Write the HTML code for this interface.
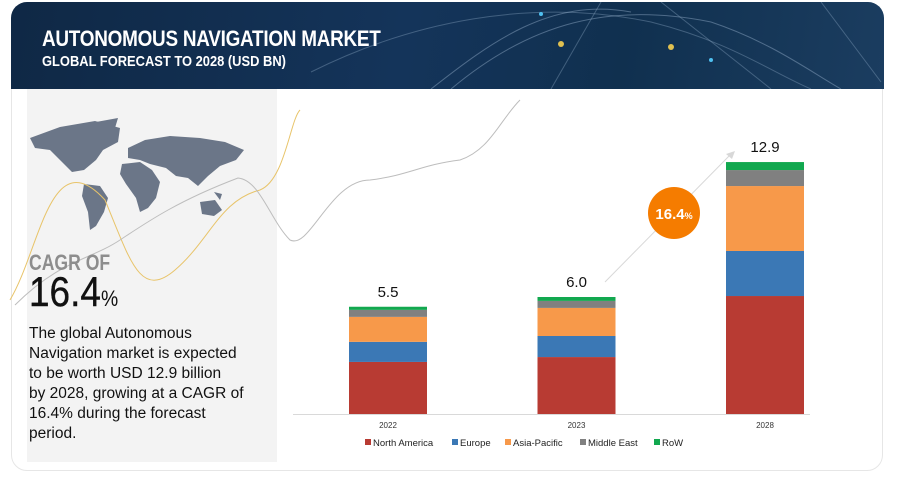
<!DOCTYPE html>
<html><head><meta charset="utf-8">
<style>
body{margin:0;width:900px;height:491px;background:#fff;overflow:hidden;font-family:"Liberation Sans",sans-serif;position:relative}
.card{position:absolute;left:11px;top:2px;width:872px;height:469px;border:1px solid #e6e6e6;border-radius:16px;box-sizing:border-box}
.header{position:absolute;left:11px;top:2px;width:873px;height:87px;border-radius:16px 16px 0 0;background:linear-gradient(100deg,#0f2845 0%,#14345a 45%,#10304f 70%,#1b3d60 100%);overflow:hidden}
.t1{position:absolute;left:31px;top:24px;color:#fff;font-size:22px;font-weight:bold;transform:scaleX(0.86);transform-origin:left;letter-spacing:-0.3px;white-space:nowrap}
.t2{position:absolute;left:31px;top:51px;color:#fff;font-size:15px;font-weight:bold;transform:scaleX(0.86);transform-origin:left;white-space:nowrap}
.panel{position:absolute;left:27px;top:89px;width:250px;height:373px;background:#f3f3f3}
.cagr{position:absolute;left:29px;top:250px;font-size:22px;font-weight:bold;color:#8d8d8d;transform:scaleX(0.8);transform-origin:left}
.big{position:absolute;left:29px;top:268px;font-size:42px;color:#111;transform:scaleX(0.88);transform-origin:left;-webkit-text-stroke:0.4px #111}
.big span{font-size:22px;-webkit-text-stroke:0}
.para{position:absolute;left:29px;top:324px;width:260px;font-size:15.5px;line-height:20px;color:#111;white-space:nowrap}
</style></head><body>
<div class="card"></div>
<div class="header">
<svg width="873" height="87" style="position:absolute;left:0;top:0">
<path d="M420 87 C480 40 540 -5 620 10" stroke="#8aa4c0" stroke-opacity=".5" fill="none"/>
<path d="M440 87 C520 20 600 0 700 20 C760 40 800 70 830 87" stroke="#8aa4c0" stroke-opacity=".5" fill="none"/>
<path d="M300 70 C400 20 520 -5 640 20 C720 40 760 70 800 87" stroke="#8aa4c0" stroke-opacity=".4" fill="none"/>
<path d="M540 87 L590 0" stroke="#8aa4c0" stroke-opacity=".4" fill="none"/>
<path d="M650 0 L760 87" stroke="#8aa4c0" stroke-opacity=".4" fill="none"/>
<path d="M810 0 L870 80" stroke="#8aa4c0" stroke-opacity=".4" fill="none"/>
<circle cx="550" cy="42" r="3" fill="#e0c050"/><circle cx="660" cy="45" r="3" fill="#e0c050"/><circle cx="530" cy="12" r="2" fill="#4fc0f0"/><circle cx="700" cy="58" r="2" fill="#4fc0f0"/>
</svg>
<div class="t1">AUTONOMOUS NAVIGATION MARKET</div>
<div class="t2">GLOBAL FORECAST TO 2028 (USD BN)</div>
</div>
<div class="panel"></div>
<svg width="900" height="491" style="position:absolute;left:0;top:0">
<g fill="#6b7688">
<path d="M30 138 L60 127 L95 121 L120 128 L118 142 L103 150 L96 160 L84 170 L72 172 L62 162 L50 150 L35 148Z"/>
<path d="M96 122 L118 118 L112 138 L100 140Z"/>
<path d="M84 184 L100 186 L108 198 L104 212 L96 226 L90 230 L88 212 L82 196Z"/>
<path d="M128 148 L145 140 L170 136 L200 138 L225 142 L244 150 L236 160 L220 166 L208 176 L198 186 L188 178 L176 176 L166 168 L150 164 L140 160 L128 158Z"/>
<path d="M122 164 L140 162 L152 170 L160 182 L156 198 L148 208 L140 212 L136 198 L126 184 L120 174Z"/>
<path d="M200 202 L215 200 L222 210 L214 216 L202 214Z"/>
<path d="M214 192 L222 194 L220 200Z"/>
</g>
<path d="M10 300 C40 250 50 140 105 200 C130 260 140 300 175 270 C210 240 220 200 260 190 C285 180 290 120 300 110" stroke="#e8c46a" fill="none" stroke-width="1"/>
<path d="M15 305 C60 260 90 260 120 240 C150 220 180 200 238 178 C260 180 270 220 290 240 C310 250 330 180 370 180 C410 175 420 165 460 160 C490 150 500 120 520 100" stroke="#bdbdbd" fill="none" stroke-width="1"/>
</svg>
<div class="cagr">CAGR OF</div>
<div class="big">16.4<span>%</span></div>
<div class="para">The global Autonomous<br>Navigation market is expected<br>to be worth USD 12.9 billion<br>by 2028, growing at a CAGR of<br>16.4% during the forecast<br>period.</div>

<svg id="chart" width="900" height="491" style="position:absolute;left:0;top:0"></svg>
<script>
const years=["2022","2023","2028"];
const northAmerica=[2.67,2.92,6.05];
const europe=[1.03,1.08,2.31];
const asiaPacific=[1.28,1.44,3.33];
const middleEast=[0.36,0.36,0.82];
const row=[0.16,0.20,0.41];
const totals=["5.5","6.0","12.9"];
const seriesNames=["North America","Europe","Asia-Pacific","Middle East","RoW"];
const seriesColors=["#b83b33","#3b78b5","#f7994a","#808080","#12a84f"];
const series=[northAmerica,europe,asiaPacific,middleEast,row];
const NS="http://www.w3.org/2000/svg";
const svg=document.getElementById('chart');
const baseY=414,pxPer=19.5,x0=388,step=188.5,bw=78;
const xOf=i=>x0+i*step;
const yOf=v=>baseY-v*pxPer;
function mk(t,a){const e=document.createElementNS(NS,t);for(const k in a)e.setAttribute(k,a[k]);svg.appendChild(e);return e;}
const ax=mk('line',{x1:293,x2:810,y1:baseY+0.5,y2:baseY+0.5,stroke:'#d9d9d9'});


years.forEach((yr,i)=>{
  let cum=0;
  series.forEach((s,k)=>{
    const r=mk('rect',{x:xOf(i)-bw/2,y:yOf(cum+s[i]),width:bw,height:s[i]*pxPer,fill:seriesColors[k]});
    
    
    cum+=s[i];
  });
  const tl=mk('text',{x:xOf(i),y:yOf(cum)-10,'text-anchor':'middle','font-size':15,fill:'#111'});
  tl.textContent=totals[i];
  
  
  const xl=mk('text',{x:xOf(i),y:428,'text-anchor':'middle','font-size':8,fill:'#333'});
  xl.textContent=yr;
  
  
});
const ar=mk('line',{x1:605,y1:282,x2:732,y2:153,stroke:'#d8d8d8','stroke-width':1});


const ah=mk('path',{d:'M735 151 L726 154 L732 159Z',fill:'#d8d8d8'});


const c=mk('circle',{cx:674,cy:213,r:26,fill:'#f57c00'});


const ct=mk('text',{x:674,y:219,'text-anchor':'middle','font-size':15,'font-weight':'bold',fill:'#fff'});
ct.innerHTML='16.4<tspan font-size="9">%</tspan>';


const lx=[365,452,505,580,654];
seriesNames.forEach((n,k)=>{
  const g=document.createElementNS(NS,'g');svg.appendChild(g);
  
  
  const r=document.createElementNS(NS,'rect');
  r.setAttribute('x',lx[k]);r.setAttribute('y',439);r.setAttribute('width',6);r.setAttribute('height',6);r.setAttribute('fill',seriesColors[k]);
  g.appendChild(r);
  const t=document.createElementNS(NS,'text');
  t.setAttribute('x',lx[k]+8);t.setAttribute('y',446);t.setAttribute('font-size',9.5);t.setAttribute('fill','#222');
  t.textContent=n;g.appendChild(t);
});
</script>
</body></html>
